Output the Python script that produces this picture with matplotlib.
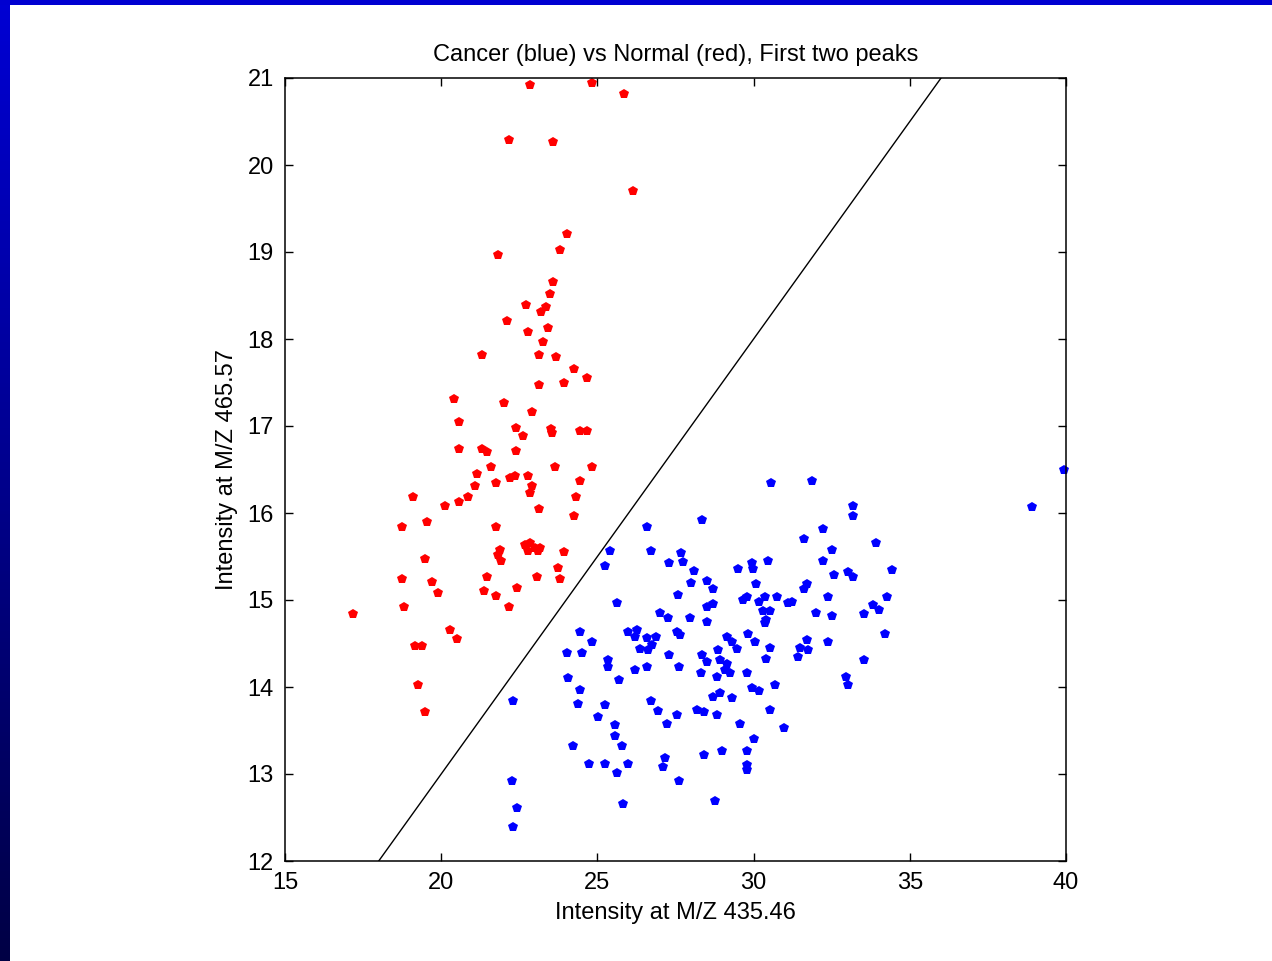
#Recreating the scatter of the first two peaks: cancer (blue) vs normal (red).

import numpy             as np
import matplotlib.pyplot as plt
from matplotlib.patches  import Rectangle

#Data (intensity at M/Z 435.46, intensity at M/Z 465.57).

normal_x = [22.84, 24.83, 25.85, 22.17, 23.58, 26.14, 24.03, 23.80, 21.82, 23.58,
            23.48, 22.71, 23.35, 23.19, 22.11, 23.42, 22.78, 23.26, 21.31, 23.13,
            23.67, 24.25, 23.93, 24.67, 23.13, 20.41, 22.01, 22.91, 20.57, 22.39,
            22.62, 23.51, 23.54, 24.44, 24.67, 20.57, 21.31, 21.47, 22.39, 21.59,
            23.64, 24.83, 21.15, 22.78, 22.20, 22.35, 21.75, 22.91, 24.44, 21.08,
            22.84, 24.31, 19.10, 20.86, 20.57, 20.12, 23.13, 24.25, 18.75, 19.55,
            21.75, 22.68, 22.84, 23.00, 23.16, 22.78, 23.10, 21.88, 21.82, 21.91,
            23.93, 19.48, 23.74, 18.75, 19.71, 21.47, 23.07, 23.80, 19.90, 21.37,
            21.75, 22.43, 18.81, 22.17, 17.18, 20.28, 20.51, 19.16, 19.39, 19.26,
            19.48]
normal_y = [20.92, 20.94, 20.82, 20.29, 20.26, 19.70, 19.21, 19.02, 18.97, 18.66,
            18.52, 18.39, 18.37, 18.31, 18.21, 18.13, 18.08, 17.97, 17.82, 17.82,
            17.79, 17.66, 17.49, 17.55, 17.47, 17.31, 17.26, 17.16, 17.05, 16.98,
            16.89, 16.97, 16.92, 16.94, 16.94, 16.74, 16.74, 16.70, 16.71, 16.53,
            16.53, 16.53, 16.45, 16.43, 16.40, 16.42, 16.34, 16.31, 16.37, 16.31,
            16.23, 16.18, 16.18, 16.18, 16.13, 16.08, 16.05, 15.97, 15.84, 15.90,
            15.84, 15.63, 15.66, 15.60, 15.60, 15.56, 15.56, 15.57, 15.52, 15.45,
            15.55, 15.47, 15.37, 15.24, 15.21, 15.26, 15.26, 15.24, 15.08, 15.10,
            15.05, 15.14, 14.92, 14.92, 14.84, 14.66, 14.55, 14.47, 14.47, 14.02,
            13.71]

cancer_x = [30.55, 28.34, 26.58, 25.40, 26.72, 25.24, 27.68, 27.75, 27.30, 28.10,
            28.00, 28.50, 28.71, 29.51, 29.94, 29.97, 30.47, 30.08, 27.59, 25.62,
            29.67, 29.78, 30.18, 30.36, 30.74, 31.11, 31.22, 28.71, 28.50, 30.31,
            30.53, 30.40, 30.37, 27.96, 28.50, 27.00, 27.25, 24.44, 24.82, 25.99,
            26.26, 26.20, 26.58, 26.87, 27.54, 27.64, 29.14, 29.30, 29.46, 29.81,
            30.04, 30.53, 26.36, 26.63, 26.74, 24.02, 24.52, 25.33, 25.35, 27.30,
            26.58, 26.20, 27.61, 28.34, 28.50, 28.87, 28.92, 29.14, 29.08, 29.24,
            28.82, 28.32, 30.40, 29.78, 24.07, 25.70, 24.44, 29.94, 30.18, 30.69,
            24.37, 26.72, 28.71, 28.92, 29.30, 22.31, 25.24, 25.03, 26.95, 27.54,
            28.18, 28.41, 28.84, 29.56, 30.53, 30.98, 25.56, 25.56, 27.24, 25.78,
            24.23, 30.02, 27.16, 27.09, 28.41, 29.00, 29.78, 29.78, 29.78, 24.74,
            25.24, 25.99, 25.62, 27.61, 22.26, 22.42, 22.31, 25.83, 28.77, 31.86,
            33.19, 33.19, 32.21, 31.62, 33.91, 32.50, 32.21, 34.42, 32.58, 33.03,
            33.19, 31.70, 31.61, 32.37, 34.26, 33.83, 34.00, 32.00, 32.50, 33.54,
            34.21, 31.72, 32.37, 31.49, 31.75, 31.41, 33.54, 32.95, 33.03, 38.90,
            39.94]
cancer_y = [16.34, 15.92, 15.84, 15.56, 15.56, 15.39, 15.54, 15.44, 15.42, 15.33,
            15.19, 15.22, 15.13, 15.36, 15.42, 15.36, 15.45, 15.18, 15.06, 14.97,
            15.00, 15.03, 14.98, 15.04, 15.03, 14.96, 14.98, 14.95, 14.92, 14.87,
            14.87, 14.77, 14.73, 14.79, 14.75, 14.85, 14.79, 14.63, 14.52, 14.63,
            14.66, 14.58, 14.56, 14.58, 14.63, 14.60, 14.58, 14.52, 14.44, 14.61,
            14.52, 14.45, 14.44, 14.43, 14.48, 14.39, 14.39, 14.31, 14.23, 14.37,
            14.23, 14.19, 14.23, 14.37, 14.29, 14.42, 14.31, 14.27, 14.20, 14.16,
            14.12, 14.16, 14.32, 14.16, 14.10, 14.08, 13.97, 13.99, 13.95, 14.02,
            13.81, 13.84, 13.89, 13.93, 13.87, 13.84, 13.79, 13.66, 13.72, 13.68,
            13.74, 13.71, 13.68, 13.58, 13.74, 13.53, 13.56, 13.44, 13.58, 13.32,
            13.32, 13.40, 13.18, 13.08, 13.22, 13.26, 13.26, 13.10, 13.05, 13.12,
            13.11, 13.11, 13.01, 12.92, 12.92, 12.61, 12.39, 12.66, 12.69, 16.37,
            16.08, 15.97, 15.82, 15.70, 15.66, 15.57, 15.45, 15.34, 15.29, 15.32,
            15.26, 15.18, 15.13, 15.03, 15.03, 14.94, 14.89, 14.85, 14.82, 14.84,
            14.61, 14.54, 14.52, 14.45, 14.42, 14.34, 14.31, 14.11, 14.02, 16.07,
            16.49]

#Separating line.
boundary_x = [18, 36]
boundary_y = [12, 21]

plt.rcParams['font.family'] = ['Liberation Sans', 'DejaVu Sans']

fig = plt.figure(figsize=(12.72, 9.61), dpi=100)
fig.patch.set_facecolor('white')

#Slide border: gradient strip on the left, flat bar on top.
strip = fig.add_axes([0, 0, 10/1272, 1])
strip.imshow(np.linspace(0, 1, 256).reshape(-1, 1), aspect='auto',
             cmap=plt.matplotlib.colors.LinearSegmentedColormap.from_list(
                 'slide', [(0, 0, 0.83), (0, 0, 0.55), (0, 0, 0.27)]))
strip.axis('off')
fig.patches.append(Rectangle((0, 1 - 5/961), 1, 5/961, transform=fig.transFigure,
                             facecolor=(0, 0, 0.82), edgecolor='none'))

ax = fig.add_axes([285/1272, 100/961, 781/1272, 783/961])
ax.plot(normal_x, normal_y, 'p', color='r', markersize=7.5, markeredgewidth=0, clip_on=False)
ax.plot(cancer_x, cancer_y, 'p', color='b', markersize=7.5, markeredgewidth=0, clip_on=False)
ax.plot(boundary_x, boundary_y, color='k', linewidth=1.0)

ax.set_xlim(15, 40)
ax.set_ylim(12, 21)
ax.set_xticks(np.arange(15, 41, 5))
ax.set_yticks(np.arange(12, 22, 1))
ax.tick_params(direction='in', length=6, width=1, top=True, right=True,
               labelsize=17, pad=8)
for s in ax.spines.values():
    s.set_linewidth(1.1)

ax.set_title('Cancer (blue) vs Normal (red), First two peaks', fontsize=17, pad=12)
ax.set_xlabel('Intensity at M/Z 435.46', fontsize=17, labelpad=6)
ax.set_ylabel('Intensity at M/Z 465.57', fontsize=17, labelpad=7)

plt.savefig('out.png', dpi=100)
